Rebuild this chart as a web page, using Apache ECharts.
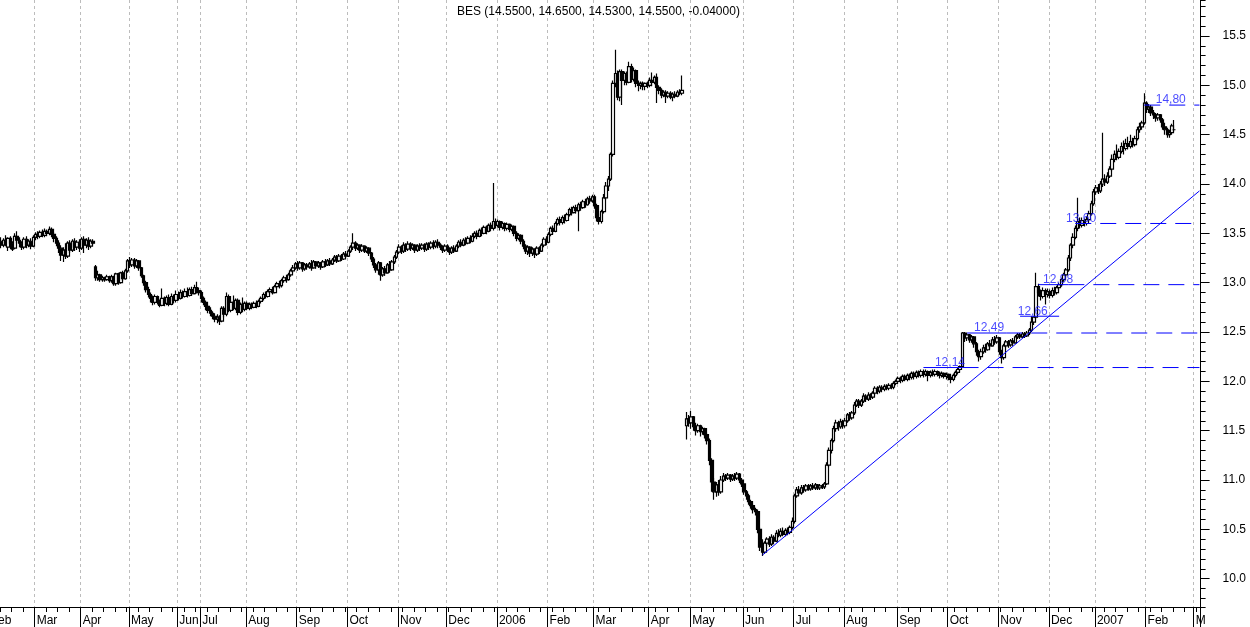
<!DOCTYPE html>
<html><head><meta charset="utf-8">
<script src="https://cdn.jsdelivr.net/npm/echarts@6/dist/echarts.min.js"></script>
<style>html,body{margin:0;padding:0;background:#fff;}#c{width:1250px;height:627px;}</style>
</head><body><div id="c"></div>
<script>
const titleText = 'BES (14.5500, 14.6500, 14.5300, 14.5500, -0.04000)';
const slotCount = 528;
const firstCandleSlot = 6;
const monthLabels = ['Feb','Mar','Apr','May','Jun','Jul','Aug','Sep','Oct','Nov','Dec','2006','Feb','Mar','Apr','May','Jun','Jul','Aug','Sep','Oct','Nov','Dec','2007','Feb','M'];
const monthStarts = [1,21,41,62,83,93,113,135,157,179,200,222,244,264,288,306,329,351,373,396,418,440,462,482,504,525];
// candles: [open, close, low, high]
const candles = [
[13.42,13.38,13.35,13.46],[13.38,13.43,13.36,13.45],[13.43,13.40,13.37,13.48],[13.36,13.45,13.32,13.46],[13.45,13.40,13.34,13.47],[13.40,13.34,13.32,13.42],[13.35,13.47,13.34,13.50],[13.47,13.43,13.40,13.52],[13.43,13.40,13.36,13.46],[13.40,13.36,13.33,13.42],
[13.36,13.44,13.34,13.46],[13.44,13.38,13.35,13.47],[13.38,13.42,13.36,13.44],[13.42,13.37,13.34,13.45],[13.37,13.46,13.36,13.48],[13.46,13.49,13.43,13.51],[13.49,13.47,13.44,13.52],[13.47,13.51,13.45,13.53],[13.51,13.48,13.46,13.54],[13.48,13.52,13.46,13.55],
[13.52,13.50,13.47,13.54],[13.50,13.54,13.48,13.57],[13.54,13.49,13.46,13.56],[13.49,13.45,13.41,13.51],[13.45,13.40,13.37,13.47],[13.40,13.35,13.30,13.43],[13.35,13.28,13.22,13.38],[13.28,13.33,13.21,13.36],[13.33,13.27,13.24,13.40],[13.27,13.40,13.25,13.42],
[13.40,13.33,13.30,13.43],[13.33,13.42,13.31,13.44],[13.42,13.36,13.32,13.45],[13.36,13.41,13.33,13.43],[13.41,13.35,13.31,13.44],[13.35,13.44,13.33,13.46],[13.44,13.38,13.30,13.47],[13.38,13.43,13.35,13.45],[13.43,13.37,13.33,13.46],[13.37,13.42,13.35,13.44],
[13.42,13.40,13.38,13.44],[13.16,13.05,13.02,13.18],[13.05,13.08,13.02,13.12],[13.08,13.03,13.01,13.09],[13.03,13.05,13.01,13.07],[13.05,13.03,13.01,13.06],[13.03,13.06,13.02,13.08],[13.06,13.02,13.00,13.07],[13.02,13.06,13.00,13.08],[13.06,12.99,12.97,13.07],
[12.99,13.09,12.97,13.10],[13.09,13.00,12.98,13.10],[13.00,13.10,12.99,13.11],[13.10,13.04,13.02,13.12],[13.04,13.12,13.03,13.14],[13.12,13.22,13.10,13.24],[13.22,13.18,13.15,13.26],[13.18,13.23,13.16,13.25],[13.23,13.17,13.14,13.25],[13.17,13.22,13.15,13.24],
[13.22,13.15,13.12,13.23],[13.15,13.07,13.05,13.16],[13.07,13.00,12.97,13.08],[13.00,12.93,12.90,13.02],[12.93,12.88,12.85,12.96],[12.88,12.84,12.80,12.90],[12.84,12.80,12.77,12.87],[12.80,12.86,12.78,12.88],[12.86,12.80,12.78,12.87],[12.80,12.77,12.75,12.83],
[12.77,12.84,12.76,12.94],[12.84,12.79,12.76,12.86],[12.79,12.85,12.77,12.87],[12.85,12.78,12.76,12.88],[12.78,12.86,12.77,12.89],[12.86,12.82,12.79,12.88],[12.82,12.88,12.80,12.92],[12.88,12.84,12.82,12.91],[12.84,12.90,12.83,12.93],[12.90,12.86,12.84,12.92],
[12.86,12.91,12.85,12.94],[12.91,12.87,12.85,12.95],[12.87,12.93,12.86,12.95],[12.93,12.89,12.87,12.96],[12.89,12.95,12.88,12.98],[12.95,12.92,12.89,13.01],[12.92,12.90,12.87,12.95],[12.90,12.84,12.80,12.92],[12.84,12.80,12.77,12.86],[12.80,12.76,12.72,12.82],
[12.76,12.72,12.69,12.78],[12.72,12.69,12.66,12.75],[12.69,12.66,12.63,12.71],[12.66,12.63,12.60,12.69],[12.63,12.65,12.59,12.68],[12.65,12.61,12.57,12.67],[12.61,12.74,12.60,12.76],[12.74,12.68,12.65,12.76],[12.68,12.86,12.66,12.90],[12.86,12.72,12.70,12.88],
[12.72,12.80,12.70,12.82],[12.80,12.74,12.72,12.87],[12.74,12.82,12.72,12.84],[12.82,12.70,12.67,12.84],[12.70,12.78,12.68,12.80],[12.78,12.73,12.70,12.85],[12.73,12.79,12.71,12.81],[12.79,12.74,12.72,12.81],[12.74,12.78,12.72,12.80],[12.78,12.75,12.73,12.80],
[12.75,12.79,12.74,12.81],[12.79,12.76,12.74,12.82],[12.76,12.81,12.75,12.83],[12.81,12.84,12.79,12.86],[12.84,12.88,12.82,12.90],[12.88,12.86,12.84,12.91],[12.86,12.91,12.85,12.93],[12.91,12.93,12.89,12.95],[12.93,12.90,12.88,12.96],[12.90,12.96,12.89,12.98],
[12.96,12.99,12.94,13.01],[12.99,12.97,12.94,13.02],[12.97,13.02,12.95,13.04],[13.02,13.05,13.00,13.07],[13.05,13.03,13.00,13.08],[13.03,13.08,13.02,13.10],[13.08,13.12,13.06,13.14],[13.12,13.15,13.10,13.18],[13.15,13.19,13.13,13.21],[13.19,13.15,13.12,13.22],
[13.15,13.20,13.13,13.22],[13.20,13.14,13.11,13.21],[13.14,13.18,13.12,13.20],[13.18,13.16,13.13,13.20],[13.16,13.19,13.14,13.21],[13.19,13.15,13.12,13.23],[13.15,13.21,13.14,13.23],[13.21,13.17,13.14,13.22],[13.17,13.20,13.15,13.22],[13.20,13.16,13.13,13.21],
[13.16,13.21,13.15,13.23],[13.21,13.18,13.16,13.24],[13.18,13.22,13.17,13.24],[13.22,13.19,13.17,13.25],[13.19,13.23,13.18,13.25],[13.23,13.26,13.21,13.28],[13.26,13.22,13.20,13.28],[13.22,13.27,13.21,13.29],[13.27,13.24,13.22,13.29],[13.24,13.29,13.23,13.31],
[13.29,13.27,13.25,13.32],[13.27,13.32,13.26,13.34],[13.32,13.36,13.30,13.38],[13.36,13.40,13.33,13.50],[13.40,13.35,13.32,13.42],[13.35,13.38,13.33,13.40],[13.38,13.33,13.30,13.39],[13.33,13.37,13.31,13.39],[13.37,13.32,13.30,13.38],[13.32,13.35,13.30,13.37],
[13.35,13.30,13.27,13.36],[13.30,13.24,13.21,13.31],[13.24,13.18,13.15,13.26],[13.18,13.13,13.10,13.20],[13.13,13.20,13.08,13.22],[13.20,13.08,13.02,13.21],[13.08,13.14,13.06,13.16],[13.14,13.10,13.07,13.17],[13.10,13.18,13.09,13.20],[13.18,13.13,13.10,13.22],
[13.13,13.21,13.12,13.23],[13.21,13.26,13.19,13.28],[13.26,13.31,13.24,13.33],[13.31,13.36,13.29,13.39],[13.36,13.32,13.29,13.38],[13.32,13.38,13.30,13.41],[13.38,13.34,13.31,13.40],[13.34,13.39,13.32,13.42],[13.39,13.35,13.32,13.41],[13.35,13.38,13.33,13.40],
[13.38,13.33,13.30,13.39],[13.33,13.37,13.31,13.39],[13.37,13.35,13.32,13.40],[13.35,13.38,13.33,13.40],[13.38,13.34,13.31,13.40],[13.34,13.39,13.32,13.41],[13.39,13.36,13.33,13.41],[13.36,13.40,13.34,13.42],[13.40,13.37,13.34,13.43],[13.37,13.41,13.35,13.43],
[13.41,13.38,13.35,13.44],[13.38,13.36,13.33,13.40],[13.36,13.33,13.30,13.38],[13.33,13.37,13.31,13.39],[13.37,13.34,13.31,13.39],[13.34,13.31,13.28,13.36],[13.31,13.35,13.29,13.37],[13.35,13.32,13.30,13.38],[13.32,13.37,13.31,13.39],[13.37,13.41,13.35,13.43],
[13.41,13.38,13.36,13.44],[13.38,13.43,13.37,13.45],[13.43,13.40,13.38,13.46],[13.40,13.45,13.39,13.47],[13.45,13.42,13.40,13.48],[13.42,13.47,13.41,13.50],[13.47,13.50,13.45,13.52],[13.50,13.47,13.44,13.53],[13.47,13.53,13.46,13.55],[13.53,13.50,13.47,13.56],
[13.50,13.56,13.49,13.58],[13.56,13.52,13.49,13.58],[13.52,13.58,13.51,13.60],[13.58,13.55,13.52,13.61],[13.55,13.62,13.53,14.01],[13.62,13.58,13.55,13.65],[13.58,13.62,13.56,13.64],[13.62,13.56,13.53,13.63],[13.56,13.60,13.54,13.62],[13.60,13.55,13.52,13.61],
[13.55,13.59,13.53,13.61],[13.59,13.54,13.51,13.60],[13.54,13.57,13.52,13.59],[13.57,13.50,13.47,13.58],[13.50,13.45,13.42,13.52],[13.45,13.48,13.43,13.50],[13.48,13.42,13.39,13.49],[13.42,13.37,13.34,13.44],[13.37,13.32,13.29,13.39],[13.32,13.36,13.28,13.38],
[13.36,13.30,13.26,13.37],[13.30,13.34,13.27,13.36],[13.34,13.29,13.25,13.35],[13.29,13.35,13.27,13.37],[13.35,13.32,13.29,13.37],[13.32,13.38,13.31,13.40],[13.38,13.44,13.36,13.46],[13.44,13.41,13.38,13.47],[13.41,13.49,13.40,13.51],[13.49,13.55,13.47,13.57],
[13.55,13.52,13.49,13.58],[13.52,13.60,13.51,13.62],[13.60,13.64,13.58,13.66],[13.64,13.61,13.58,13.67],[13.61,13.66,13.59,13.68],[13.66,13.63,13.60,13.69],[13.63,13.69,13.62,13.71],[13.69,13.74,13.67,13.76],[13.74,13.71,13.68,13.77],[13.71,13.76,13.70,13.78],
[13.76,13.73,13.70,13.79],[13.73,13.79,13.52,13.81],[13.79,13.76,13.73,13.82],[13.76,13.82,13.75,13.84],[13.82,13.79,13.76,13.85],[13.79,13.85,13.78,13.87],[13.85,13.83,13.80,13.88],[13.83,13.87,13.81,13.89],[13.87,13.78,13.75,13.89],[13.78,13.66,13.62,13.80],
[13.66,13.62,13.59,13.70],[13.62,13.72,13.60,13.74],[13.72,13.86,13.70,13.90],[13.86,13.98,13.84,14.02],[13.98,14.05,13.93,14.08],[14.05,14.30,14.03,14.32],[14.30,15.02,14.28,15.05],[15.02,15.12,14.98,15.36],[15.12,14.88,14.85,15.15],[14.88,15.14,14.84,15.16],
[15.14,15.05,14.80,15.16],[15.05,15.12,15.00,15.14],[15.12,15.03,15.00,15.14],[15.03,15.19,15.02,15.24],[15.19,15.06,15.03,15.22],[15.06,15.15,15.04,15.18],[15.15,15.02,14.98,15.16],[15.02,15.00,14.94,15.05],[15.00,15.02,14.96,15.04],[15.02,14.99,14.95,15.04],
[14.99,15.02,14.95,15.03],[15.02,15.00,14.97,15.04],[15.00,15.05,14.98,15.08],[15.05,15.03,14.99,15.13],[15.03,15.08,15.01,15.10],[15.08,14.98,14.82,15.12],[14.98,14.95,14.91,15.00],[14.95,14.90,14.87,14.97],[14.90,14.93,14.88,14.95],[14.93,14.89,14.82,14.95],
[14.89,14.92,14.87,14.94],[14.92,14.88,14.86,14.94],[14.88,14.91,14.84,14.93],[14.91,14.89,14.87,14.94],[14.89,14.93,14.88,14.95],[14.93,14.92,14.90,14.96],[14.92,14.95,14.90,15.10],null,[11.55,11.62,11.41,11.69],[11.62,11.58,11.54,11.66],
[11.58,11.64,11.52,11.70],[11.64,11.54,11.50,11.65],[11.54,11.50,11.45,11.58],[11.50,11.55,11.48,11.57],[11.55,11.49,11.44,11.56],[11.49,11.52,11.46,11.54],[11.52,11.46,11.42,11.53],[11.46,11.40,11.36,11.48],[11.40,11.20,11.15,11.42],[11.20,10.98,10.88,11.22],
[10.98,10.88,10.80,11.02],[10.88,10.95,10.83,10.98],[10.95,10.88,10.84,11.00],[10.88,11.00,10.86,11.04],[11.00,11.04,10.98,11.07],[11.04,11.02,10.99,11.06],[11.02,11.05,11.00,11.07],[11.05,11.01,10.98,11.06],[11.01,11.04,10.99,11.06],[11.04,11.02,10.99,11.07],
[11.02,11.06,11.00,11.08],[11.06,11.00,10.97,11.07],[11.00,10.96,10.93,11.02],[10.96,10.88,10.85,10.97],[10.88,10.84,10.80,10.90],[10.84,10.78,10.75,10.86],[10.78,10.74,10.71,10.80],[10.74,10.70,10.66,10.76],[10.70,10.68,10.64,10.72],[10.68,10.50,10.46,10.70],
[10.50,10.32,10.28,10.52],[10.32,10.27,10.23,10.40],[10.27,10.36,10.25,10.38],[10.36,10.40,10.33,10.42],[10.40,10.35,10.32,10.43],[10.35,10.42,10.33,10.45],[10.42,10.38,10.35,10.44],[10.38,10.46,10.37,10.49],[10.46,10.44,10.42,10.50],[10.44,10.48,10.42,10.51],
[10.48,10.45,10.43,10.52],[10.45,10.49,10.43,10.51],[10.49,10.47,10.44,10.52],[10.47,10.52,10.45,10.54],[10.52,10.58,10.50,10.62],[10.58,10.84,10.56,10.86],[10.84,10.90,10.82,10.93],[10.90,10.87,10.84,10.94],[10.87,10.92,10.85,10.95],[10.92,10.90,10.87,10.95],
[10.90,10.94,10.88,10.96],[10.94,10.91,10.89,10.96],[10.91,10.94,10.89,10.96],[10.94,10.92,10.90,10.97],[10.92,10.95,10.90,10.97],[10.95,10.92,10.90,10.96],[10.92,10.94,10.90,10.96],[10.94,10.93,10.91,10.96],[10.93,10.96,10.91,10.98],[10.96,11.15,10.95,11.18],
[11.15,11.30,11.13,11.33],[11.30,11.40,11.27,11.42],[11.40,11.52,11.38,11.55],[11.52,11.58,11.49,11.61],[11.58,11.54,11.50,11.60],[11.54,11.59,11.52,11.62],[11.59,11.55,11.52,11.61],[11.55,11.60,11.53,11.63],[11.60,11.66,11.58,11.68],[11.66,11.63,11.60,11.69],
[11.63,11.68,11.61,11.70],[11.68,11.76,11.66,11.79],[11.76,11.80,11.74,11.82],[11.80,11.76,11.73,11.82],[11.76,11.80,11.74,11.82],[11.80,11.85,11.78,11.88],[11.85,11.82,11.79,11.87],[11.82,11.86,11.80,11.89],[11.86,11.84,11.81,11.88],[11.84,11.88,11.82,11.90],
[11.88,11.93,11.86,11.95],[11.93,11.90,11.87,11.95],[11.90,11.94,11.88,11.96],[11.94,11.92,11.89,11.96],[11.92,11.95,11.90,11.97],[11.95,11.93,11.91,11.97],[11.93,11.96,11.91,11.98],[11.96,11.94,11.92,11.98],[11.94,11.98,11.92,12.00],[11.98,12.00,11.96,12.02],
[12.00,12.03,11.98,12.05],[12.03,12.01,11.98,12.05],[12.01,12.05,11.99,12.07],[12.05,12.02,12.00,12.07],[12.02,12.06,12.00,12.08],[12.06,12.04,12.01,12.08],[12.04,12.08,12.02,12.10],[12.08,12.05,12.02,12.10],[12.05,12.09,12.03,12.11],[12.09,12.06,12.04,12.11],
[12.06,12.10,12.04,12.12],[12.10,12.07,12.04,12.12],[12.07,12.10,12.05,12.12],[12.10,12.06,12.00,12.11],[12.06,12.09,12.04,12.11],[12.09,12.07,12.05,12.12],[12.07,12.10,12.05,12.12],[12.10,12.08,12.05,12.11],[12.08,12.06,12.03,12.10],[12.06,12.08,12.04,12.10],
[12.08,12.05,12.03,12.09],[12.05,12.07,12.02,12.09],[12.07,12.04,12.01,12.08],[12.04,12.02,11.98,12.06],[12.02,12.06,12.00,12.08],[12.06,12.09,12.04,12.11],[12.09,12.12,12.07,12.14],[12.12,12.15,12.10,12.16],[12.15,12.49,12.14,12.50],[12.49,12.44,12.40,12.50],
[12.44,12.47,12.41,12.49],[12.47,12.42,12.39,12.48],[12.42,12.45,12.39,12.47],[12.45,12.38,12.34,12.46],[12.38,12.30,12.26,12.40],[12.30,12.25,12.20,12.32],[12.25,12.30,12.22,12.33],[12.30,12.34,12.28,12.37],[12.34,12.32,12.29,12.38],[12.32,12.38,12.31,12.40],
[12.38,12.36,12.33,12.42],[12.36,12.42,12.35,12.45],[12.42,12.40,12.37,12.46],[12.40,12.44,12.38,12.47],[12.44,12.30,12.27,12.45],[12.30,12.24,12.18,12.32],[12.24,12.36,12.22,12.38],[12.36,12.40,12.34,12.42],[12.40,12.37,12.34,12.42],[12.37,12.41,12.35,12.43],
[12.41,12.39,12.36,12.44],[12.39,12.45,12.38,12.47],[12.45,12.47,12.43,12.49],[12.47,12.45,12.43,12.49],[12.45,12.48,12.44,12.50],[12.48,12.46,12.44,12.50],[12.46,12.49,12.45,12.51],[12.49,12.52,12.47,12.54],[12.52,12.60,12.50,12.66],[12.60,12.65,12.57,12.66],
[12.65,12.96,12.63,13.10],[12.96,12.90,12.86,12.99],[12.90,12.86,12.82,12.93],[12.86,12.92,12.84,12.95],[12.92,12.88,12.78,12.94],[12.88,12.91,12.85,12.94],[12.91,12.87,12.84,12.93],[12.87,12.92,12.85,12.95],[12.92,12.90,12.87,12.96],[12.90,12.95,12.88,12.97],
[12.95,12.98,12.92,13.00],[12.98,13.03,12.96,13.05],[13.03,13.08,13.01,13.10],[13.08,13.13,13.05,13.15],[13.13,13.25,13.11,13.28],[13.25,13.38,13.22,13.40],[13.38,13.46,13.35,13.50],[13.46,13.55,13.44,13.58],[13.55,13.62,13.52,13.86],[13.62,13.58,13.55,13.66],
[13.58,13.63,13.56,13.66],[13.63,13.60,13.57,13.65],[13.60,13.64,13.58,13.67],[13.64,13.70,13.62,13.73],[13.70,13.80,13.68,13.83],[13.80,13.92,13.78,13.95],[13.92,13.96,13.89,13.99],[13.96,13.93,13.90,14.00],[13.93,14.00,13.91,14.03],[14.00,14.05,13.97,14.52],
[14.05,14.02,13.98,14.10],[14.02,14.08,14.00,14.12],[14.08,14.15,14.06,14.18],[14.15,14.25,14.13,14.30],[14.25,14.30,14.22,14.34],[14.30,14.27,14.24,14.40],[14.27,14.33,14.25,14.36],[14.33,14.38,14.31,14.42],[14.38,14.36,14.30,14.44],[14.36,14.41,14.34,14.46],
[14.41,14.38,14.35,14.48],[14.38,14.43,14.36,14.50],[14.43,14.40,14.37,14.47],[14.40,14.46,14.38,14.49],[14.46,14.55,14.44,14.58],[14.55,14.58,14.52,14.62],[14.58,14.62,14.55,14.64],[14.62,14.82,14.60,14.92],[14.82,14.76,14.72,14.84],[14.76,14.78,14.72,14.81],
[14.78,14.72,14.69,14.80],[14.72,14.70,14.66,14.75],[14.70,14.67,14.63,14.72],[14.67,14.70,14.64,14.72],[14.70,14.65,14.62,14.71],[14.65,14.58,14.55,14.67],[14.58,14.55,14.50,14.62],[14.55,14.50,14.47,14.57],[14.50,14.52,14.47,14.55],[14.52,14.59,14.50,14.61],
[14.55,14.55,14.53,14.65]
];
// horizontal price levels (value, label, start slot, end of solid part, end slot)
const levelValues = [12.14, 12.49, 12.66, 12.98, 13.60, 14.80];
const levelLabels = ['12,14','12,49','12,66','12,98','13,60','14,80'];
const levelFrom = [407, 426, 449, 457, 473, 503];
const levelSolidTo = [424, 443, 461, 470, 473, 503];
const levelTo = [527, 527, 466, 527, 527, 527];
const levelLabelAt = [412, 429, 448, 459, 469, 508];
// trend line endpoints [slot, value]
const trendStart = [337, 10.24];
const trendEnd = [527, 13.93];

const FONT = '"Liberation Sans", Arial, sans-serif';
const BLUE = '#0000ff';
const monthAt = new Map(monthStarts.map((k, i) => [k, monthLabels[i]]));
const categories = Array.from({length: slotCount}, (_, k) => String(k));
const candleData = categories.map((_, k) => {
  const c = candles[k - firstCandleSlot];
  return c ? c : '-';
});

const series = [{
  type: 'candlestick', xAxisIndex: 0, yAxisIndex: 0, data: candleData, barWidth: 3,
  itemStyle: {color: '#ffffff', color0: '#000000', borderColor: '#000000', borderColor0: '#000000', borderWidth: 1.2},
  silent: true, animation: false
}];
levelValues.forEach((v, i) => {
  if (levelSolidTo[i] > levelFrom[i]) {
    series.push({type: 'line', xAxisIndex: 0, yAxisIndex: 0, symbol: 'none', silent: true, z: 5,
      data: [[levelFrom[i], v], [levelSolidTo[i], v]], lineStyle: {color: BLUE, width: 1}});
  }
  series.push({type: 'line', xAxisIndex: 0, yAxisIndex: 0, symbol: 'none', silent: true, z: 5,
    data: [[levelSolidTo[i], v], [levelTo[i], v]], lineStyle: {color: BLUE, width: 1, type: [16, 9]}});
});
series.push({type: 'line', xAxisIndex: 0, yAxisIndex: 0, symbol: 'none', silent: true, z: 5,
  data: [trendStart, trendEnd], lineStyle: {color: BLUE, width: 1}});
series.push({type: 'scatter', xAxisIndex: 0, yAxisIndex: 0, silent: true, z: 6, symbolSize: 1,
  itemStyle: {color: 'rgba(0,0,0,0)'},
  data: levelValues.map((v, i) => [levelLabelAt[i], v]),
  label: {show: true, position: 'inside', align: 'left', verticalAlign: 'middle', offset: [0, -5],
    color: '#1a1aff', fontSize: 12, fontFamily: FONT, formatter: p => levelLabels[p.dataIndex]}});

const chart = echarts.init(document.getElementById('c'), null, {renderer: 'canvas'});
chart.setOption({
  animation: false,
  backgroundColor: '#ffffff',
  title: {text: titleText, left: 457, top: 6, padding: 0,
    textStyle: {fontSize: 12, fontWeight: 'normal', color: '#000', fontFamily: FONT}},
  grid: {left: -13.8, top: 0, width: 1214.4, height: 607, containLabel: false, outerBoundsMode: 'none'},
  xAxis: [{
    type: 'category', data: categories, position: 'bottom', boundaryGap: true,
    axisLine: {show: true, lineStyle: {color: '#000', width: 1}},
    axisTick: {show: true, length: 20, interval: (k) => monthAt.has(k), lineStyle: {color: '#000'}},
    axisLabel: {show: true, interval: (k) => monthAt.has(k), formatter: (v, k) => monthAt.get(k) || '',
      align: 'left', margin: 8, padding: [0, 0, 0, 1], color: '#000', fontSize: 12, fontFamily: FONT, hideOverlap: false},
    splitLine: {show: true, interval: (k) => monthAt.has(k), lineStyle: {color: '#bcbcbc', width: 1, type: [3, 3]}}
  }, {
    type: 'category', data: categories, position: 'bottom', boundaryGap: true,
    axisLine: {show: false},
    axisTick: {show: true, length: 5, interval: (k) => (k - 1) % 5 === 0, lineStyle: {color: '#000'}},
    axisLabel: {show: false}, splitLine: {show: false}
  }],
  yAxis: [{
    type: 'value', position: 'right', min: 9.713, max: 15.865, minInterval: 0.5, maxInterval: 0.5,
    axisLine: {show: true, lineStyle: {color: '#000', width: 1}},
    axisTick: {show: true, length: 9, lineStyle: {color: '#000'}},
    axisLabel: {show: true, margin: 22, align: 'left', color: '#000', fontSize: 12, fontFamily: FONT,
      showMinLabel: false, showMaxLabel: false, formatter: v => v.toFixed(1)},
    splitLine: {show: false}
  }, {
    type: 'value', position: 'right', min: 9.713, max: 15.865, minInterval: 0.1, maxInterval: 0.1,
    axisLine: {show: false}, axisTick: {show: true, length: 5, lineStyle: {color: '#000'}},
    axisLabel: {show: false}, splitLine: {show: false}
  }],
  series: series
});
</script></body></html>
